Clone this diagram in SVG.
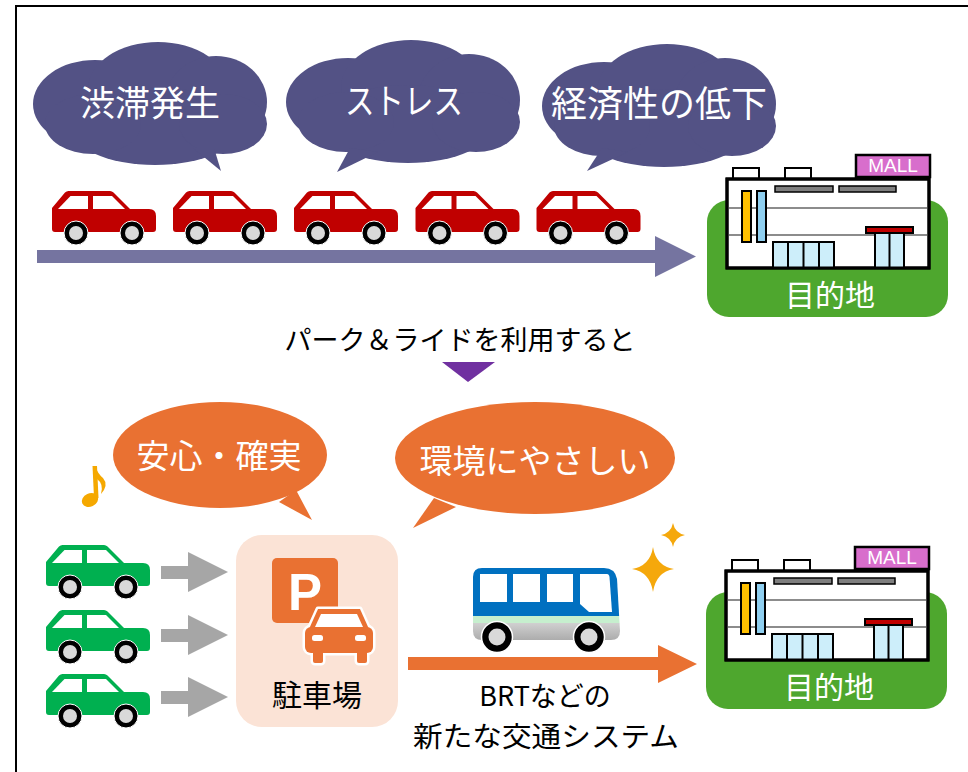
<svg xmlns="http://www.w3.org/2000/svg" xmlns:xlink="http://www.w3.org/1999/xlink" width="968" height="772" viewBox="0 0 968 772">
  <style>
    .jp { font-family: "Noto Sans CJK JP", "Noto Sans", sans-serif; }
    .white { fill: #ffffff; }
    .dark { fill: #000000; }
    .win { fill: #cdeefa; stroke: #000; stroke-width: 2; }
  </style>
  <defs>
    <!-- wheel used by cars -->
    <g id="wheel">
      <circle r="12" fill="#000" stroke="#fff" stroke-width="1"/>
      <circle r="7" fill="#d9d9d9"/>
    </g>
    <!-- side-view car; body colour comes from the use element -->
    <g id="car">
      <path d="M0,17 L13,1.5 Q14.5,0 16.5,0 L58,0 Q60,0 61.5,1.5 L78,18 L97,18 Q104,18 104,25 L104,38 Q104,41 101,41 L3,41 Q0,41 0,38 Z"/>
      <path d="M6,18 L18.5,5 L36,5 L36,18 Z" fill="#fff"/>
      <path d="M41,5 L60,5 L73,18 L41,18 Z" fill="#fff"/>
      <use xlink:href="#wheel" x="24" y="42"/>
      <use xlink:href="#wheel" x="80" y="42"/>
    </g>
    <!-- cloud-shaped thought bubble body -->
    <g id="cloud">
      <ellipse cx="62" cy="62" rx="62" ry="44"/>
      <ellipse cx="125" cy="47" rx="70" ry="47"/>
      <ellipse cx="183" cy="60" rx="51" ry="46"/>
      <ellipse cx="122" cy="84" rx="86" ry="39"/>
      <ellipse cx="60" cy="82" rx="48" ry="30"/>
      <ellipse cx="190" cy="82" rx="44" ry="30"/>
    </g>
    <!-- shopping mall destination -->
    <g id="mall">
      <rect x="707" y="200" width="241" height="117" rx="22" fill="#4ea72e"/>
      <rect x="733" y="168" width="26" height="11" fill="#fff" stroke="#000" stroke-width="2"/>
      <rect x="785" y="168" width="26" height="11" fill="#fff" stroke="#000" stroke-width="2"/>
      <rect x="856" y="155" width="74" height="22" fill="#d86ecc" stroke="#000" stroke-width="2.5"/>
      <text x="893" y="172" text-anchor="middle" font-family="Liberation Sans, Arial, sans-serif" font-size="19" fill="#fff">MALL</text>
      <rect x="727" y="179" width="202" height="89" fill="#fff" stroke="#000" stroke-width="3"/>
      <line x1="729" y1="208" x2="927" y2="208" stroke="#8c8c8c" stroke-width="2"/>
      <line x1="729" y1="235" x2="927" y2="235" stroke="#8c8c8c" stroke-width="2"/>
      <rect x="775" y="186" width="58" height="6" fill="#7f7f7f" stroke="#000" stroke-width="1.5"/>
      <rect x="839" y="186" width="57" height="6" fill="#7f7f7f" stroke="#000" stroke-width="1.5"/>
      <rect x="742" y="191" width="9" height="51" fill="#ffc000" stroke="#000" stroke-width="2"/>
      <rect x="757" y="191" width="9" height="51" fill="#8fcff0" stroke="#000" stroke-width="2"/>
      <rect x="773" y="242" width="61" height="26" class="win"/>
      <line x1="788" y1="242" x2="788" y2="268" stroke="#000" stroke-width="2"/>
      <line x1="803.5" y1="242" x2="803.5" y2="268" stroke="#000" stroke-width="2"/>
      <line x1="819" y1="242" x2="819" y2="268" stroke="#000" stroke-width="2"/>
      <rect x="866" y="227" width="47" height="6" fill="#c00000" stroke="#000" stroke-width="2"/>
      <rect x="875" y="233" width="29" height="35" class="win"/>
      <line x1="889.5" y1="233" x2="889.5" y2="268" stroke="#000" stroke-width="2"/>
      <rect x="727" y="179" width="202" height="89" fill="none" stroke="#000" stroke-width="3"/>
      <text x="830" y="306" text-anchor="middle" class="jp" font-size="30" fill="#fff">目的地</text>
    </g>
    <!-- bus body outline -->
    <clipPath id="busClip">
      <path d="M473,577 Q473,568 482,568 L604,568 Q615,568 617,579 L620,631 Q620,640 611,640 L482,640 Q473,640 473,631 Z"/>
    </clipPath>
    <linearGradient id="busGrey" x1="0" y1="0" x2="0" y2="1">
      <stop offset="0" stop-color="#d0d0d0"/>
      <stop offset="1" stop-color="#a6a6a6"/>
    </linearGradient>
  </defs>

  <!-- frame -->
  <path d="M16,772 L16,6 L968,6" fill="none" stroke="#000" stroke-width="2"/>

  <!-- connectors -->
  <g id="connectors">
    <polygon points="37,250 655,250 655,236 696,256.5 655,277 655,263 37,263" fill="#7574a0"/>
    <polygon points="442,362 495,362 468,382" fill="#7030a0"/>
    <polygon points="161,566 188,566 188,552 228,572 188,592 188,579 161,579" fill="#a6a6a6"/>
    <polygon points="161,629 188,629 188,615 228,635 188,655 188,642 161,642" fill="#a6a6a6"/>
    <polygon points="161,691 188,691 188,677 228,697 188,717 188,704 161,704" fill="#a6a6a6"/>
    <polygon points="408,657 658,657 658,645 697,664 658,683 658,670 408,670" fill="#e97132"/>
  </g>

  <!-- thought clouds -->
  <g id="cloud-jutai" fill="#535285">
    <use xlink:href="#cloud" transform="translate(33,42)"/>
    <polygon points="193,148 221,171 214,148"/>
    <text x="150" y="116" text-anchor="middle" class="jp white" font-size="35">渋滞発生</text>
  </g>
  <g id="cloud-stress" fill="#535285">
    <use xlink:href="#cloud" transform="translate(286,40)"/>
    <polygon points="350,148 337,172 378,152"/>
    <text x="404" y="114" text-anchor="middle" class="jp white" font-size="35" textLength="118" lengthAdjust="spacingAndGlyphs">ストレス</text>
  </g>
  <g id="cloud-economy" fill="#535285">
    <use xlink:href="#cloud" transform="translate(542,44)"/>
    <polygon points="602,148 587,171 628,152"/>
    <text x="659" y="117" text-anchor="middle" class="jp white" font-size="36">経済性の低下</text>
  </g>

  <!-- congested cars -->
  <g id="cars-red" fill="#c00000">
    <use xlink:href="#car" x="52" y="191"/>
    <use xlink:href="#car" x="173" y="191"/>
    <use xlink:href="#car" x="294" y="191"/>
    <use xlink:href="#car" x="415.5" y="191"/>
    <use xlink:href="#car" x="536.5" y="191"/>
  </g>

  <!-- destinations -->
  <g id="mall-top"><use xlink:href="#mall"/></g>
  <g id="mall-bottom"><use xlink:href="#mall" transform="translate(-1,392)"/></g>

  <!-- caption -->
  <g id="caption">
    <text x="460" y="350" text-anchor="middle" class="jp dark" font-size="27">パーク＆ライドを利用すると</text>
  </g>

  <!-- speech bubbles -->
  <g id="bubble-anshin" fill="#e97132">
    <ellipse cx="220" cy="455" rx="107" ry="53"/>
    <polygon points="296,490 312,520 279,502"/>
    <text x="219" y="468" text-anchor="middle" class="jp white" font-size="33">安心・確実</text>
  </g>
  <g id="bubble-kankyo" fill="#e97132">
    <ellipse cx="535" cy="458" rx="140" ry="56"/>
    <polygon points="434,498 413,528 456,507"/>
    <text x="535" y="473" text-anchor="middle" class="jp white" font-size="33">環境にやさしい</text>
  </g>

  <!-- music note -->
  <g id="note" fill="#f5a800">
    <ellipse cx="90" cy="500" rx="8.5" ry="6.5" transform="rotate(-25 90 500)"/>
    <path d="M92.5,466 L97,466 L98.5,498 L94,498 Z"/>
    <path d="M95,466 Q98,474 103,478 Q109,485 101,494 Q104,484 97,479 Z"/>
  </g>

  <!-- sparkles -->
  <g id="sparkles" fill="#f5a80c">
    <path d="M653,547 Q656,566 674,569 Q656,572 653,592 Q650,572 632,569 Q650,566 653,547 Z"/>
    <path d="M673,523 Q675,533 685,535 Q675,537 673,547 Q671,537 661,535 Q671,533 673,523 Z"/>
  </g>

  <!-- park and ride cars -->
  <g id="cars-green" fill="#00b050">
    <use xlink:href="#car" x="46" y="545"/>
    <use xlink:href="#car" x="46" y="610"/>
    <use xlink:href="#car" x="46" y="674"/>
  </g>

  <!-- parking -->
  <g id="parking">
    <rect x="236" y="535" width="162" height="192" rx="26" fill="#fbe3d6"/>
    <rect x="272" y="558" width="66" height="65" rx="5" fill="#e97132"/>
    <text x="305" y="610" text-anchor="middle" font-family="Liberation Sans, Arial, sans-serif" font-weight="bold" font-size="51" fill="#fff">P</text>
    <!-- front-view car: white outline first, then body -->
    <g stroke="#fff" stroke-width="5" stroke-linejoin="round" fill="#fff">
      <path d="M318,609 L360,609 L369,629 L309,629 Z"/>
      <rect x="305" y="627" width="68" height="26" rx="6"/>
      <rect x="313" y="650" width="10" height="13" rx="2"/>
      <rect x="357" y="650" width="10" height="13" rx="2"/>
    </g>
    <g fill="#e97132">
      <path d="M318,609 L360,609 L369,629 L309,629 Z"/>
      <rect x="305" y="627" width="68" height="26" rx="6"/>
      <rect x="313" y="650" width="10" height="13" rx="2"/>
      <rect x="357" y="650" width="10" height="13" rx="2"/>
    </g>
    <path d="M321,614 L357,614 L363,627 L315,627 Z" fill="#fff"/>
    <rect x="312" y="635" width="11" height="6" rx="2.5" fill="#fff"/>
    <rect x="355" y="635" width="11" height="6" rx="2.5" fill="#fff"/>
    <text x="317" y="706" text-anchor="middle" class="jp dark" font-size="30">駐車場</text>
  </g>

  <!-- BRT bus -->
  <g id="bus">
    <g clip-path="url(#busClip)">
      <rect x="470" y="565" width="155" height="51" fill="#0070c0"/>
      <rect x="470" y="616" width="155" height="7" fill="#c6efce"/>
      <rect x="470" y="623" width="155" height="20" fill="url(#busGrey)"/>
    </g>
    <rect x="480" y="574" width="27" height="28" fill="#fff"/>
    <rect x="513" y="574" width="27" height="28" fill="#fff"/>
    <rect x="547" y="574" width="26" height="28" fill="#fff"/>
    <path d="M580,574 L607,574 Q609,574 609.5,577 L612,612 L589,612 L580,604 Z" fill="#fff"/>
    <circle cx="497" cy="637" r="15.5" fill="#000" stroke="#fff" stroke-width="1.5"/>
    <circle cx="497" cy="637" r="8.5" fill="#d9d9d9"/>
    <circle cx="589" cy="637" r="15.5" fill="#000" stroke="#fff" stroke-width="1.5"/>
    <circle cx="589" cy="637" r="8.5" fill="#d9d9d9"/>
  </g>

  <!-- transit label (two lines) -->
  <g id="brt-label">
    <text x="545" y="705.5" class="jp dark" text-anchor="middle" font-size="27">BRTなどの</text>
    <text x="546" y="747" class="jp dark" text-anchor="middle" font-size="28" textLength="266" lengthAdjust="spacingAndGlyphs">新たな交通システム</text>
  </g>
</svg>
